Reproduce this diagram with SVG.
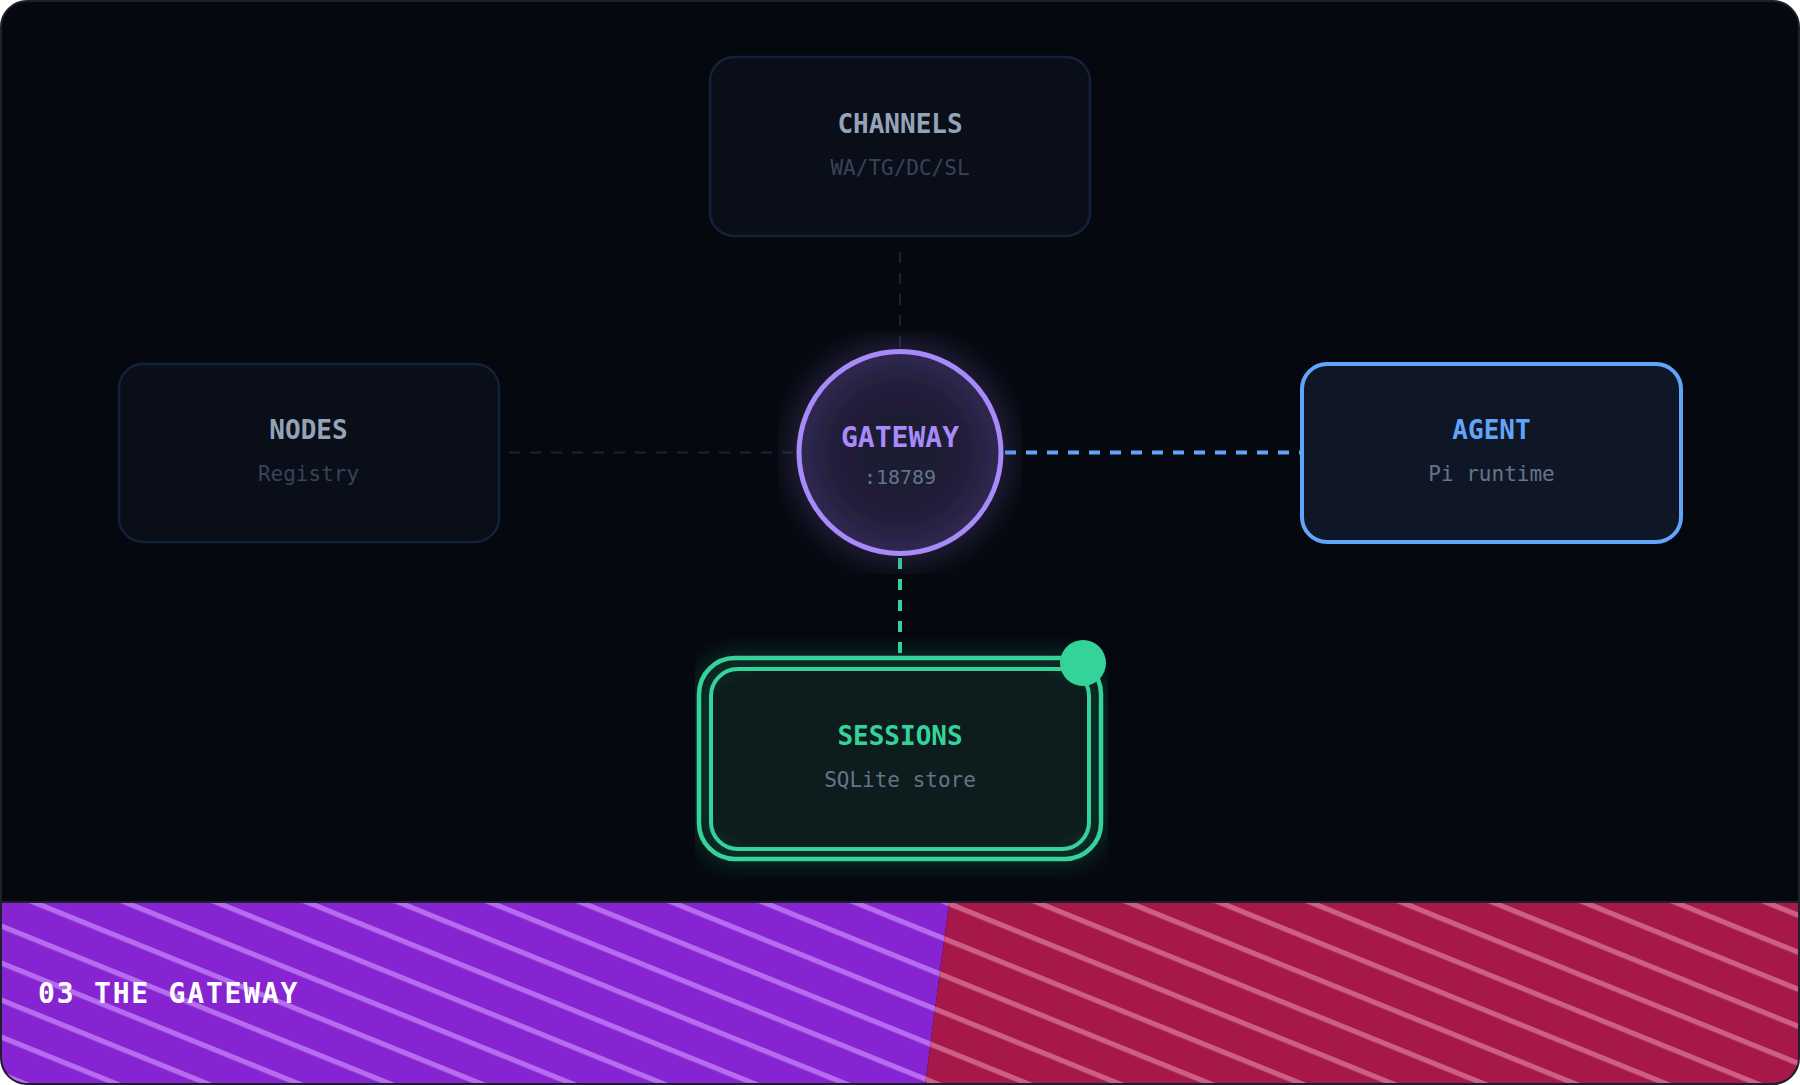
<svg xmlns="http://www.w3.org/2000/svg" width="1800" height="1085" viewBox="0 0 1800 1085">
  <style>
    .title { font-family: "DejaVu Sans Mono", "Liberation Mono", monospace; font-weight: bold; font-size: 26px; text-anchor: middle; }
    .sub { font-family: "DejaVu Sans Mono", "Liberation Mono", monospace; font-size: 21px; text-anchor: middle; }
    .box-dim { fill: #0a0e18; stroke: #14213a; stroke-width: 2.5; }
    .dim-title { fill: #94a3b8; }
    .dim-sub { fill: #364358; }
    .conn { fill: none; stroke-dasharray: 11 10; }
  </style>
  <defs>
    <radialGradient id="gwFill" cx="0.5" cy="0.5" r="0.5">
      <stop offset="0" stop-color="#1d1a30"/>
      <stop offset="0.4" stop-color="#1f1b34"/>
      <stop offset="0.75" stop-color="#25203f"/>
      <stop offset="1" stop-color="#312a55"/>
    </radialGradient>
    <radialGradient id="sessFill" cx="0.5" cy="0.5" r="0.7">
      <stop offset="0" stop-color="#0b1a1b"/>
      <stop offset="0.8" stop-color="#0b1a1b"/>
      <stop offset="1" stop-color="#0f2824"/>
    </radialGradient>
    <filter id="gwGlow">
      <feGaussianBlur in="SourceGraphic" stdDeviation="16" result="b"/>
      <feColorMatrix in="b" type="matrix" values="1 0 0 0 0  0 1 0 0 0  0 0 1 0 0  0 0 0 0.5 0" result="bb"/>
      <feMerge><feMergeNode in="bb"/><feMergeNode in="SourceGraphic"/></feMerge>
    </filter>
    <filter id="sessGlow" filterUnits="userSpaceOnUse" x="695" y="637" width="413" height="241">
      <feGaussianBlur in="SourceGraphic" stdDeviation="12" result="b"/>
      <feColorMatrix in="b" type="matrix" values="1 0 0 0 0  0 1 0 0 0  0 0 1 0 0  0 0 0 0.45 0" result="bb"/>
      <feMerge><feMergeNode in="bb"/><feMergeNode in="SourceGraphic"/></feMerge>
    </filter>
    <pattern id="stripeP" patternUnits="userSpaceOnUse" width="200" height="34.3" patternTransform="rotate(22.1) translate(0,-2.6)">
      <rect x="0" y="0" width="200" height="5.2" fill="#b66cef"/>
    </pattern>
    <pattern id="stripeR" patternUnits="userSpaceOnUse" width="200" height="34.3" patternTransform="rotate(22.1) translate(0,-2.6)">
      <rect x="0" y="0" width="200" height="5.2" fill="#cd5e85"/>
    </pattern>
    <clipPath id="bannerClip">
      <path d="M2,903 H1798 V1058 A25,25 0 0 1 1773,1083 H27 A25,25 0 0 1 2,1058 Z"/>
    </clipPath>
  </defs>

  <rect x="1" y="1" width="1798" height="1083" rx="26" fill="#05080f" stroke="#1c212b" stroke-width="2"/>

  <g id="connectors">
    <line class="conn" x1="900" y1="252" x2="900" y2="350" stroke="#15243a" stroke-width="2"/>
    <line class="conn" x1="509" y1="452.5" x2="798" y2="452.5" stroke="#15243a" stroke-width="2"/>
    <line class="conn" x1="1005" y1="452.5" x2="1300" y2="452.5" stroke="#60a5fa" stroke-width="4"/>
    <line class="conn" x1="900" y1="558" x2="900" y2="656" stroke="#34d399" stroke-width="4"/>
  </g>

  <g id="node-channels">
    <rect class="box-dim" x="710" y="57" width="380" height="179" rx="24"/>
    <text class="title dim-title" x="900" y="133">CHANNELS</text>
    <text class="sub dim-sub" x="900" y="175">WA/TG/DC/SL</text>
  </g>

  <g id="node-nodes">
    <rect class="box-dim" x="119" y="364" width="380" height="178" rx="24"/>
    <text class="title dim-title" x="308.5" y="439">NODES</text>
    <text class="sub dim-sub" x="308.5" y="481">Registry</text>
  </g>

  <g id="node-agent">
    <rect x="1302" y="364" width="379" height="178" rx="25" fill="#0f1726" stroke="#60a5fa" stroke-width="4"/>
    <text class="title" x="1491.5" y="439" fill="#60a5fa">AGENT</text>
    <text class="sub" x="1491.5" y="481" fill="#64748b">Pi runtime</text>
  </g>

  <g id="node-gateway">
    <circle cx="900" cy="452.5" r="101" fill="url(#gwFill)" stroke="#a78bfa" stroke-width="5" filter="url(#gwGlow)"/>
    <text class="title" x="900" y="447" fill="#a78bfa" style="font-size:28px">GATEWAY</text>
    <text class="sub" x="900" y="484" fill="#64748b" style="font-size:20px">:18789</text>
  </g>

  <g id="node-sessions">
    <g filter="url(#sessGlow)">
      <rect x="699" y="658" width="402" height="201" rx="36" fill="none" stroke="#34d399" stroke-width="4.5"/>
      <rect x="711" y="669" width="378" height="180" rx="27" fill="url(#sessFill)" stroke="#34d399" stroke-width="4"/>
    </g>
    <circle cx="1083" cy="663" r="23" fill="#34d399"/>
    <text class="title" x="900" y="745" fill="#34d399">SESSIONS</text>
    <text class="sub" x="900" y="787" fill="#64748b">SQLite store</text>
  </g>

  <g id="banner">
    <line x1="2" y1="902" x2="1798" y2="902" stroke="#1c212b" stroke-width="2"/>
    <g clip-path="url(#bannerClip)">
      <polygon points="0,903 949,903 925,1085 0,1085" fill="#8724d1"/>
      <polygon points="0,903 949,903 925,1085 0,1085" fill="url(#stripeP)"/>
      <polygon points="949,903 1800,903 1800,1085 925,1085" fill="#a6184a"/>
      <polygon points="949,903 1800,903 1800,1085 925,1085" fill="url(#stripeR)"/>
    </g>
    <text x="38" y="1003" font-family="DejaVu Sans Mono, Liberation Mono, monospace" font-weight="bold" font-size="28" letter-spacing="1.8" fill="#ffffff">03 THE GATEWAY</text>
  </g>
</svg>
